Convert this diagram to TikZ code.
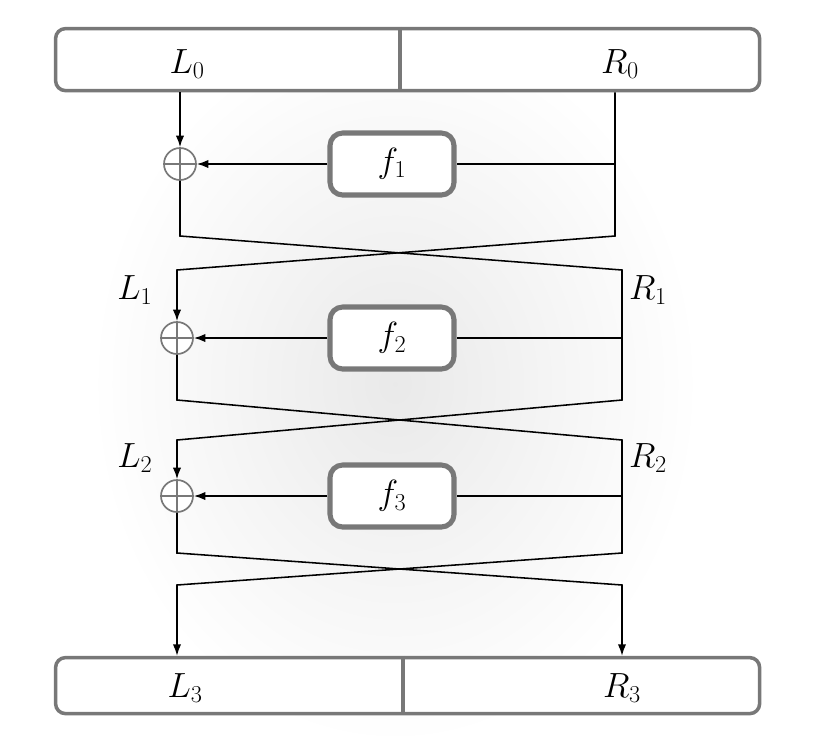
\documentclass[tikz,border=0pt]{standalone}
\usepackage{tikz}
\usetikzlibrary{arrows.meta,positioning,calc}
\definecolor{frame}{RGB}{120,120,120}
\definecolor{ink}{RGB}{0,0,0}
\tikzset{
  >={Latex[length=2.9mm,width=2.1mm]},
  wire/.style={draw=ink,line width=1.1pt},
  block/.style={draw=frame,fill=white,line width=2.5pt,rounded corners=7pt},
  fbox/.style={draw=frame,fill=white,line width=3.6pt,rounded corners=9pt,
    minimum width=3.1cm,minimum height=1.55cm,font=\fontsize{24}{29}\selectfont},
  lbl/.style={font=\fontsize{24}{29}\selectfont,inner sep=0pt},
  xor/.style={circle,draw=frame,fill=white,line width=1.2pt,minimum size=0.8cm,inner sep=0pt,
    path picture={\draw[frame,line width=1.2pt]
      (path picture bounding box.north) -- (path picture bounding box.south)
      (path picture bounding box.west) -- (path picture bounding box.east);}},
}
\begin{document}
\begin{tikzpicture}
  \useasboundingbox (0,0) rectangle (20.55,-18.75);
  % background glow
  \shade[inner color=gray!17,outer color=white] (9.875,-9.6) ellipse (7.6cm and 9cm);

  % input and output halves
  \node[block,minimum width=17.6cm,minimum height=1.55cm] (top) at (10.19,-1.49) {};
  \draw[frame,line width=2.5pt] (top.north -| 10,0) -- (top.south -| 10,0);
  \node[lbl] (L0) at (4.68,-1.6) {$L_0$};
  \node[lbl] (R0) at (15.5,-1.6) {$R_0$};
  \node[block,minimum width=17.6cm,minimum height=1.4cm] (bot) at (10.19,-17.14) {};
  \draw[frame,line width=2.5pt] (bot.north -| 10.075,0) -- (bot.south -| 10.075,0);
  \node[lbl] (L3) at (4.63,-17.2) {$L_3$};
  \node[lbl] (R3) at (15.55,-17.2) {$R_3$};

  % round functions and xors
  \node[xor] (x1) at (4.5,-4.1) {};
  \node[xor] (x2) at (4.425,-8.45) {};
  \node[xor] (x3) at (4.425,-12.4) {};
  \foreach \i/\y in {1/-4.1,2/-8.45,3/-12.4}
    \node[fbox] (f\i) at (9.8,\y) {$f_\i$};

  % intermediate labels
  \node[lbl] (L1) at (3.375,-7.25) {$L_1$};
  \node[lbl] (R1) at (16.2,-7.25) {$R_1$};
  \node[lbl] (L2) at (3.375,-11.45) {$L_2$};
  \node[lbl] (R2) at (16.2,-11.45) {$R_2$};

  % corners of the wires
  \coordinate (a1) at (15.375,-4.1);
  \coordinate (a2) at (15.55,-8.45);
  \coordinate (a3) at (15.55,-12.4);
  \coordinate (u1l) at (4.5,-5.9);   \coordinate (u1r) at (15.375,-5.9);
  \coordinate (d1l) at (4.425,-6.75); \coordinate (d1r) at (15.55,-6.75);
  \foreach \i/\yu/\yd in {2/-10/-11,3/-13.825/-14.625}{
    \coordinate (u\i l) at (4.425,\yu); \coordinate (u\i r) at (15.55,\yu);
    \coordinate (d\i l) at (4.425,\yd); \coordinate (d\i r) at (15.55,\yd);
  }

  % wires
  \draw[wire,->] (top.south -| x1) -- (x1);
  \draw[wire,->] (top.south -| a1) -- (u1r) -- (d1l) -- (x2);
  \draw[wire,->] (x1) -- (u1l) -- (d1r) -- (u2r) -- (d2l) -- (x3);
  \draw[wire,->] (x2) -- (u2l) -- (d2r) -- (u3r) -- (d3l) -- (bot.north -| d3l);
  \draw[wire,->] (x3) -- (u3l) -- (d3r) -- (bot.north -| d3r);
  \foreach \i in {1,2,3}{
    \draw[wire] (a\i) -- (f\i);
    \draw[wire,->] (f\i) -- (x\i);
  }
\end{tikzpicture}
\end{document}
